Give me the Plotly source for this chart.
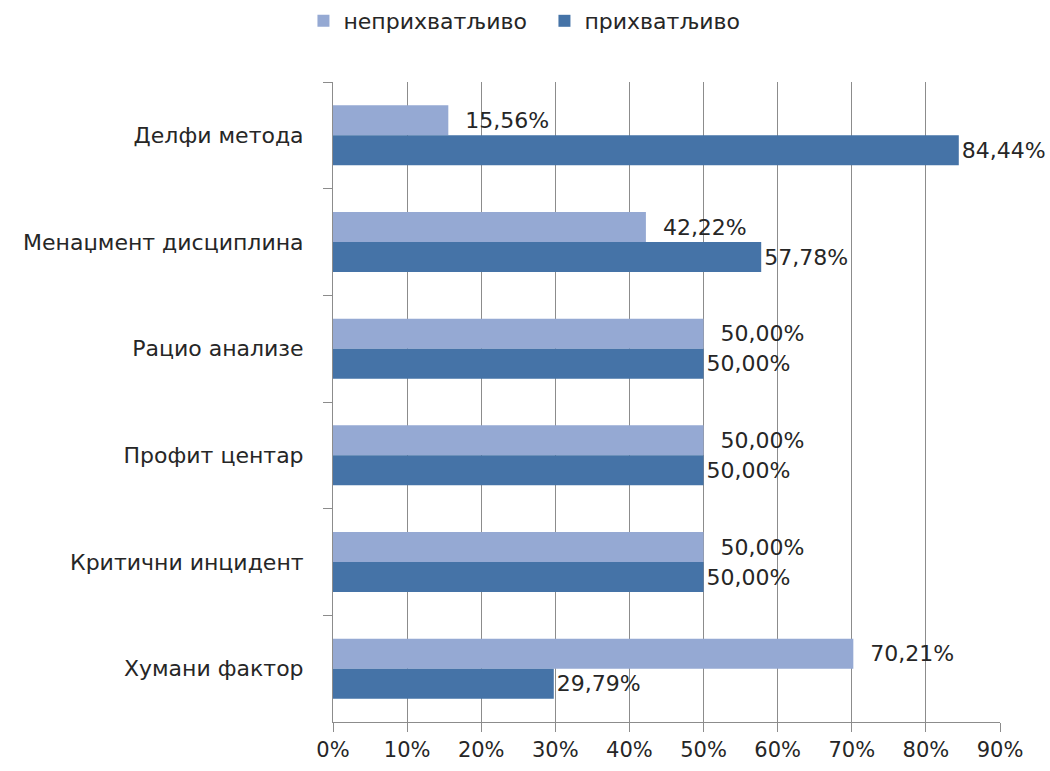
import plotly.graph_objects as go

categories = ["Делфи метода", "Менаџмент дисциплина", "Рацио анализе", "Профит центар", "Критични инцидент", "Хумани фактор"]
unacceptable = [15.56, 42.22, 50.00, 50.00, 50.00, 70.21]
acceptable = [84.44, 57.78, 50.00, 50.00, 50.00, 29.79]
series_names = ["неприхватљиво", "прихватљиво"]
x_ticks = [0, 10, 20, 30, 40, 50, 60, 70, 80, 90]

colors = ["#95A9D3", "#4573A7"]
templates = ["  %{x:.2f}%", "%{x:.2f}%"]
font_family = "DejaVu Sans, Noto Sans, sans-serif"
axis_color = "#8C8C8C"
text_color = "#262626"

fig = go.Figure()
for name, vals, col, tpl in zip(series_names, [unacceptable, acceptable], colors, templates):
    fig.add_trace(go.Bar(
        y=categories, x=vals, name=name, orientation="h",
        marker=dict(color=col, line=dict(width=0)),
        text=vals, texttemplate=tpl, textposition="outside",
        textfont=dict(size=22, color=text_color, family=font_family),
        cliponaxis=False,
    ))

fig.update_layout(
    width=1050, height=771,
    barmode="group", bargap=0.4375, bargroupgap=0,
    separators=", ",
    plot_bgcolor="white", paper_bgcolor="white",
    margin=dict(l=333, r=50, t=82, b=49, autoexpand=False),
    font=dict(family=font_family, size=22, color=text_color),
    legend=dict(orientation="h", xref="container", x=0.289, xanchor="left",
                yref="container", y=1.0, yanchor="top",
                font=dict(size=22), itemwidth=30, traceorder="normal",
                entrywidth=196),
)
fig.update_xaxes(range=[0, 90], tickvals=x_ticks, ticktext=[f"{v}%" for v in x_ticks],
                 showgrid=True, gridcolor=axis_color, gridwidth=1,
                 showline=True, linecolor=axis_color, linewidth=1,
                 ticks="outside", ticklen=9, tickcolor=axis_color,
                 zeroline=False, tickfont=dict(size=21), automargin=False)
fig.update_yaxes(autorange="reversed", tickson="boundaries",
                 showline=True, linecolor=axis_color, linewidth=1,
                 ticks="outside", ticklen=9, tickcolor=axis_color,
                 showgrid=False, tickfont=dict(size=22), ticklabelstandoff=24,
                 automargin=False)

fig.write_html("out.html", config={"displayModeBar": False},
               post_script="document.body.style.margin='0';")
